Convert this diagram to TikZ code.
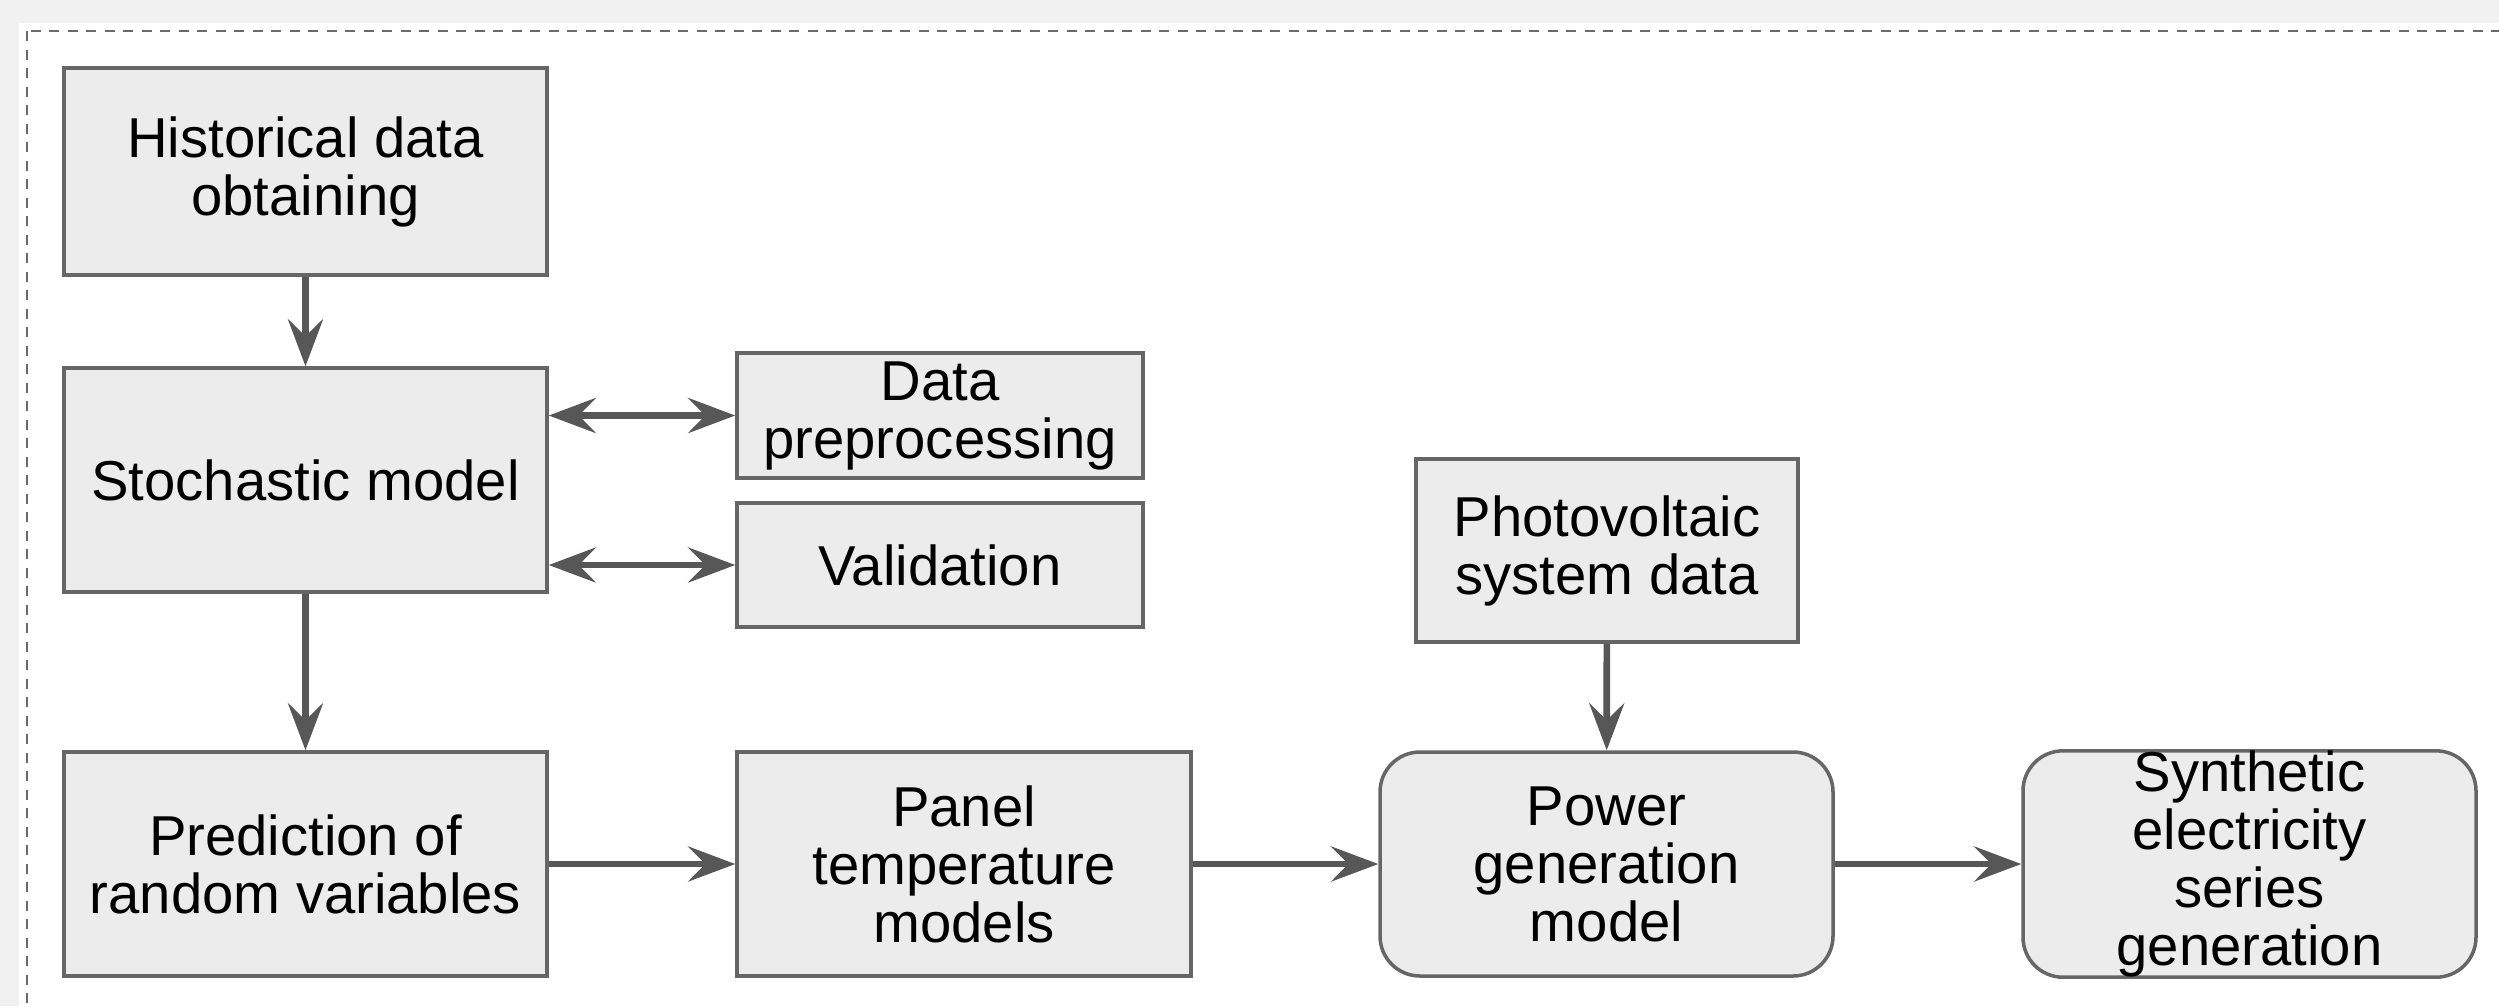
\documentclass[tikz,border=0pt]{standalone}
\usepackage{fontspec}
\setmainfont{Liberation Sans}
\usepackage{tikz}
\usepackage{xcolor}
\usetikzlibrary{arrows.meta}

\definecolor{pagegray}{HTML}{F1F1F1}
\definecolor{boxfill}{HTML}{ECECEC}
\definecolor{boxline}{HTML}{666666}
\definecolor{arrowgray}{HTML}{575757}
\definecolor{framegray}{HTML}{6A6A6A}

\begin{document}
\begin{tikzpicture}[
  box/.style={draw=boxline, fill=boxfill, line width=1pt, inner sep=0pt, align=center,
    font=\fontsize{16}{16.5}\selectfont},
  roundbox/.style={box, rounded corners=0.4cm},
  flow/.style={draw=arrowgray, line width=1.9pt, -{Stealth[length=4.7mm, width=3.5mm, inset=1.7mm]}},
  twoway/.style={flow, {Stealth[length=4.7mm, width=3.5mm, inset=1.7mm]}-{Stealth[length=4.7mm, width=3.5mm, inset=1.7mm]}}
]
  \clip (0,0) rectangle (24.99,-10.06);
  \fill[pagegray] (0,0) rectangle (24.99,-10.06);
  \fill[white] (0.19,-0.23) rectangle (26,-11);
  \draw[framegray, line width=0.8pt, dash pattern=on 1mm off 0.85mm] (0.27,-0.31) rectangle (26,-11);

  % === LEFT COLUMN ===
  \node[box, minimum width=4.83cm, minimum height=2.07cm] (hist) at (3.055,-1.715) {Historical data\\obtaining};
  \node[box, minimum width=4.83cm, minimum height=2.24cm] (stoch) at (3.055,-4.80) {Stochastic model};
  \node[box, minimum width=4.83cm, minimum height=2.24cm] (pred) at (3.055,-8.64) {Prediction of\\random variables};

  % side boxes of the stochastic model
  \node[box, minimum width=4.06cm, minimum height=1.25cm] (prep) at (9.40,-4.155) {Data\\preprocessing};
  \node[box, minimum width=4.06cm, minimum height=1.24cm] (valid) at (9.40,-5.65) {Validation};

  % === BOTTOM ROW ===
  \node[box, minimum width=4.54cm, minimum height=2.24cm] (panel) at (9.64,-8.64) {Panel\\temperature\\models};
  \node[box, minimum width=3.82cm, minimum height=1.83cm] (pv) at (16.07,-5.505) {Photovoltaic\\system data};
  \node[roundbox, minimum width=4.53cm, minimum height=2.24cm] (power) at (16.065,-8.64) {Power\\generation\\model};
  \node[roundbox, minimum width=4.53cm, minimum height=2.24cm] (synth) at (22.495,-8.64) {Synthetic\\electricity\\series\\generation};

  % === ARROWS ===
  \draw[flow] (hist) -- (stoch);
  \draw[flow] (stoch) -- (pred);
  \draw[twoway] (prep.west -| stoch.east) -- (prep.west);
  \draw[twoway] (valid.west -| stoch.east) -- (valid.west);
  \draw[flow] (pred) -- (panel);
  \draw[flow] (panel) -- (power);
  \draw[flow] (power) -- (synth);
  \draw[flow] (pv) -- (power);
\end{tikzpicture}
\end{document}
